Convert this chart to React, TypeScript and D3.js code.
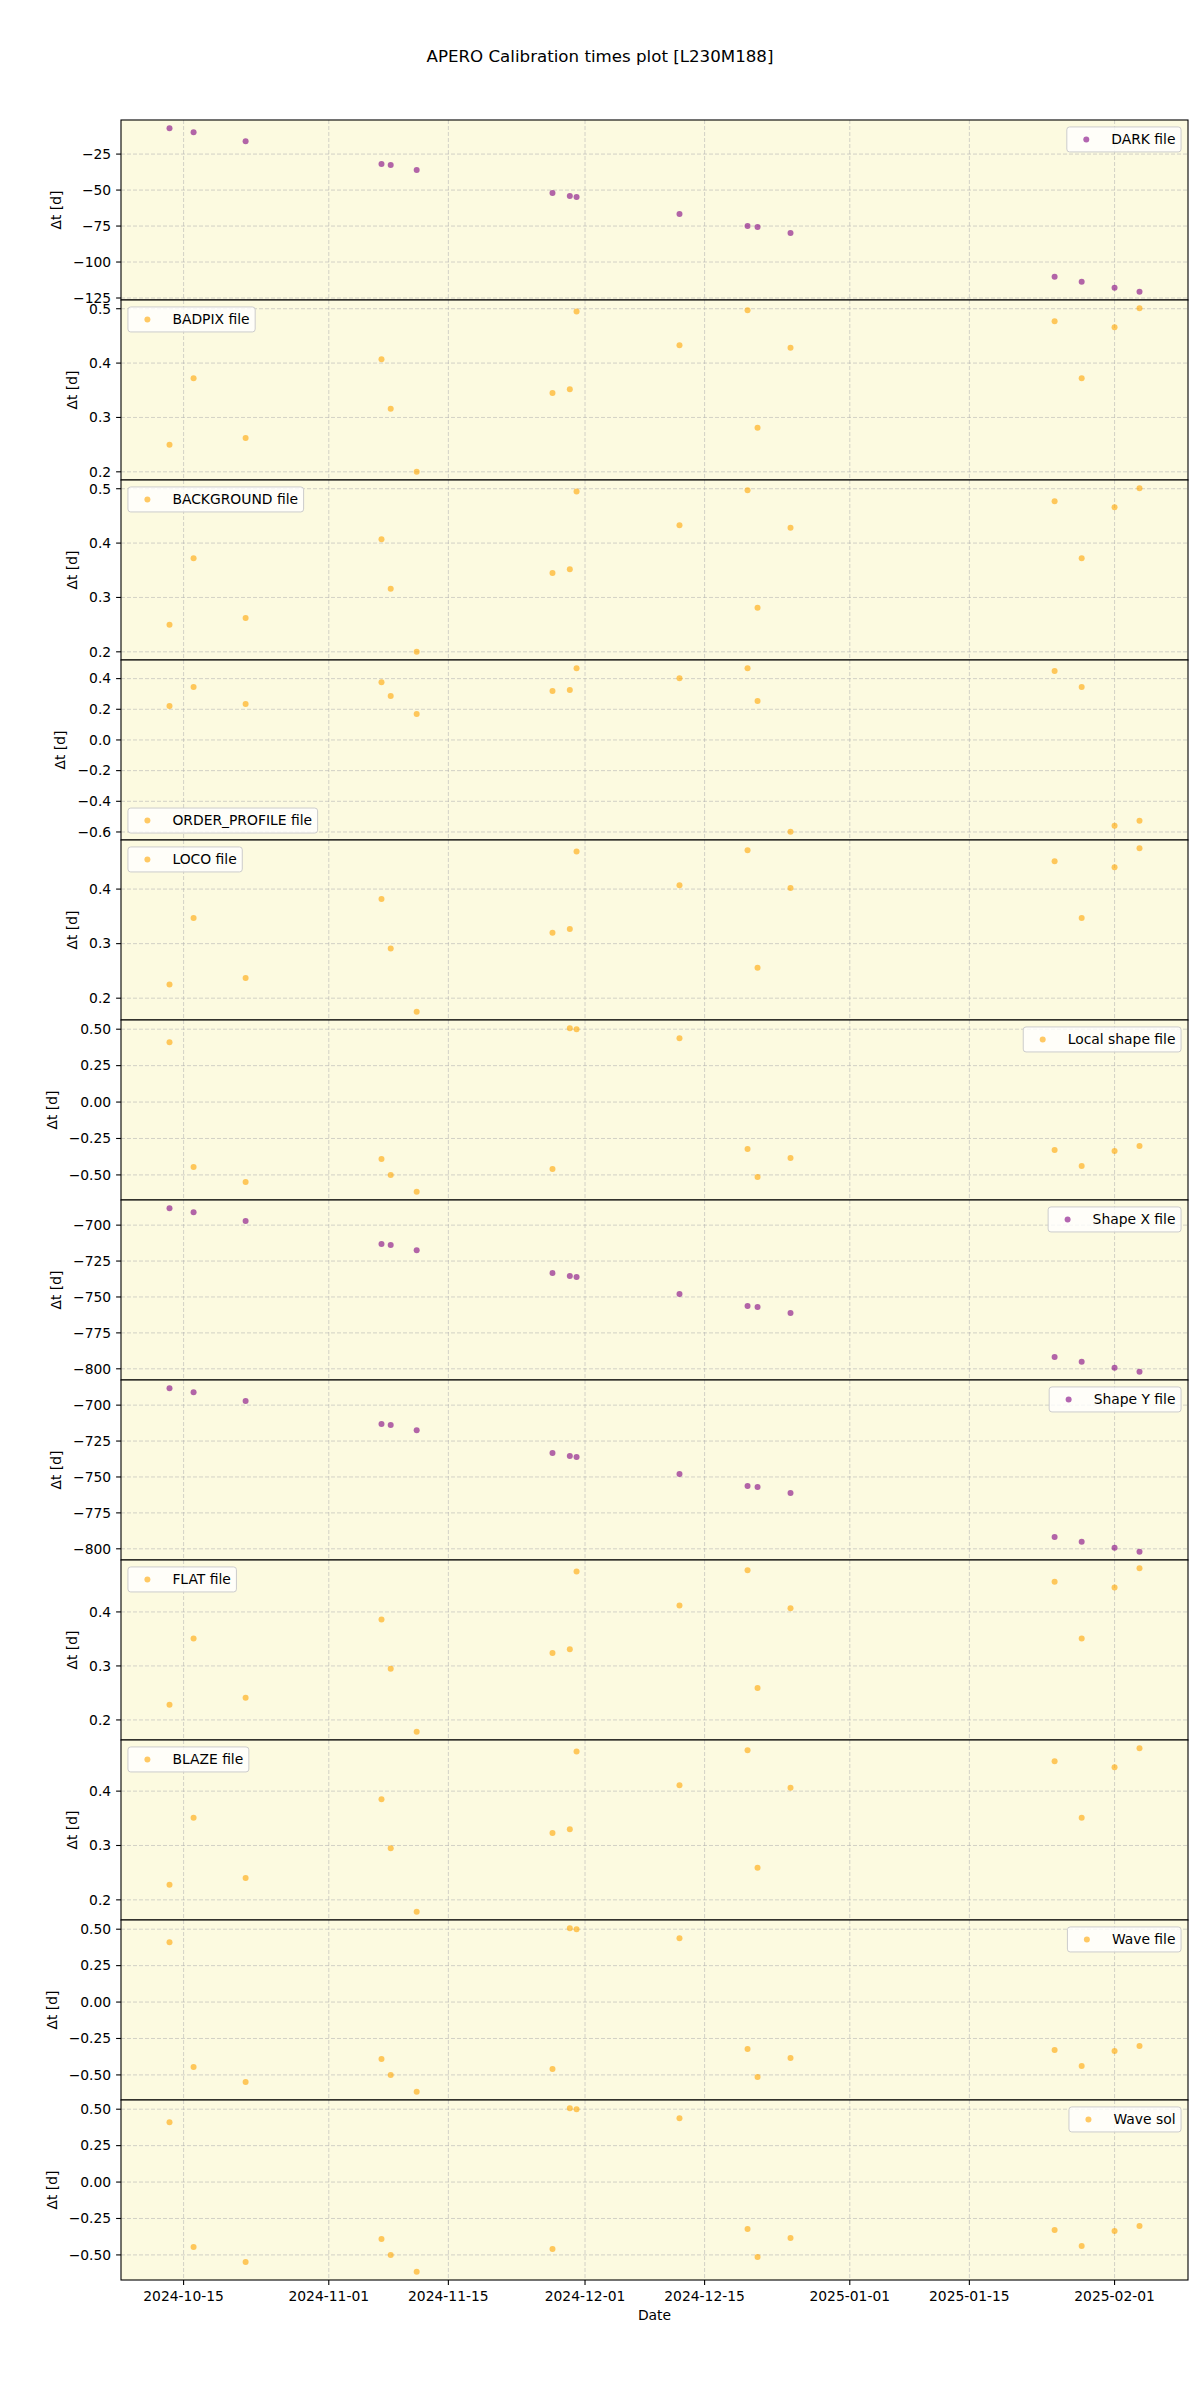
import React, { useEffect, useRef } from "react";
import * as d3 from "d3";

// ---------------- data ----------------
const obsDates = [
  "2024-10-13 08:24", "2024-10-16 04:05", "2024-10-22 06:14", "2024-11-07 04:05",
  "2024-11-08 06:00", "2024-11-11 06:58", "2024-11-27 04:34", "2024-11-29 05:17",
  "2024-11-30 00:14", "2024-12-12 01:26", "2024-12-20 00:43", "2024-12-21 04:48",
  "2024-12-25 01:26", "2025-01-24 23:31", "2025-01-28 03:36", "2025-02-01 00:00",
  "2025-02-03 22:05",
];

const darkDt = [-7.0, -9.8, -16.0, -31.9, -32.6, -36.1, -52.1, -54.2, -54.9, -66.6, -75.0, -75.7, -79.8, -110.2, -113.7, -117.9, -120.7];
const badpixDt = [0.250, 0.372, 0.262, 0.407, 0.316, 0.200, 0.345, 0.352, 0.495, 0.433, 0.497, 0.281, 0.428, 0.477, 0.372, 0.466, 0.501];
const backgroundDt = [0.250, 0.372, 0.262, 0.407, 0.316, 0.200, 0.345, 0.352, 0.495, 0.433, 0.497, 0.281, 0.428, 0.477, 0.372, 0.466, 0.501];
const orderProfileDt = [0.221, 0.345, 0.234, 0.377, 0.286, 0.169, 0.319, 0.325, 0.468, 0.403, 0.468, 0.254, -0.599, 0.449, 0.345, -0.560, -0.527];
const locoDt = [0.225, 0.347, 0.237, 0.382, 0.291, 0.175, 0.320, 0.327, 0.469, 0.407, 0.471, 0.256, 0.402, 0.451, 0.347, 0.440, 0.475];
const localShapeDt = [0.411, -0.445, -0.548, -0.390, -0.500, -0.616, -0.459, 0.507, 0.500, 0.438, -0.322, -0.514, -0.384, -0.329, -0.438, -0.336, -0.301];
const shapeXDt = [-688.2, -691.0, -697.2, -713.2, -713.9, -717.4, -733.3, -735.4, -736.1, -747.9, -756.3, -756.9, -761.1, -791.7, -795.1, -799.3, -802.1];
const shapeYDt = [-688.2, -691.0, -697.2, -713.2, -713.9, -717.4, -733.3, -735.4, -736.1, -747.9, -756.3, -756.9, -761.1, -791.7, -795.1, -799.3, -802.1];
const flatDt = [0.228, 0.351, 0.241, 0.386, 0.295, 0.178, 0.324, 0.331, 0.475, 0.412, 0.477, 0.259, 0.407, 0.456, 0.351, 0.445, 0.481];
const blazeDt = [0.228, 0.351, 0.240, 0.385, 0.295, 0.178, 0.323, 0.330, 0.473, 0.411, 0.475, 0.259, 0.406, 0.455, 0.351, 0.444, 0.479];
const waveFileDt = [0.411, -0.445, -0.548, -0.390, -0.500, -0.616, -0.459, 0.507, 0.500, 0.438, -0.322, -0.514, -0.384, -0.329, -0.438, -0.336, -0.301];
const waveSolDt = [0.411, -0.445, -0.548, -0.390, -0.500, -0.616, -0.459, 0.507, 0.500, 0.438, -0.322, -0.514, -0.384, -0.329, -0.438, -0.336, -0.301];

const xTickLabels = ["2024-10-15", "2024-11-01", "2024-11-15", "2024-12-01", "2024-12-15", "2025-01-01", "2025-01-15", "2025-02-01"];

const seriesLabels = [
  "DARK file", "BADPIX file", "BACKGROUND file", "ORDER_PROFILE file", "LOCO file", "Local shape file",
  "Shape X file", "Shape Y file", "FLAT file", "BLAZE file", "Wave file", "Wave sol",
];
const seriesValues = [
  darkDt, badpixDt, backgroundDt, orderProfileDt, locoDt, localShapeDt,
  shapeXDt, shapeYDt, flatDt, blazeDt, waveFileDt, waveSolDt,
];
const seriesColors = [
  "purple", "orange", "orange", "orange", "orange", "orange",
  "purple", "purple", "orange", "orange", "orange", "orange",
];
const legendLocs = ["ur", "ul", "ul", "ll", "ul", "ur", "ur", "ur", "ul", "ul", "ur", "ur"];

const title = "APERO Calibration times plot [L230M188]";

// ---------------- layout ----------------
const W = 1200;
const H = 2400;
const LEFT = 121;
const RIGHT = 1188;
const TOP = 120;
const PANEL_H = 180;
const FONT = "'DejaVu Sans', sans-serif";
const FS = 13.89;
const BG = "#fcfae0";

function niceStep(range: number, nbins: number) {
  const raw = range / nbins;
  const mag = Math.pow(10, Math.floor(Math.log10(raw)));
  const steps = [1, 2, 2.5, 5, 10];
  for (const s of steps) {
    if (s * mag >= raw - 1e-12) return s * mag;
  }
  return 10 * mag;
}

function decimalsOf(step: number) {
  let d = 0;
  while (d < 8 && Math.abs(step * Math.pow(10, d) - Math.round(step * Math.pow(10, d))) > 1e-9) d++;
  return d;
}

function fmt(v: number, d: number) {
  let s = v.toFixed(d);
  if (Math.abs(v) < 1e-12) s = (0).toFixed(d);
  return s.replace("-", "\u2212");
}

export default function App() {
  const ref = useRef<SVGSVGElement>(null);

  useEffect(() => {
    const svg = d3.select(ref.current);
    svg.selectAll("*").remove();
    svg.append("rect").attr("width", W).attr("height", H).attr("fill", "white");

    const parse = d3.timeParse("%Y-%m-%d %H:%M");
    const parseDay = d3.timeParse("%Y-%m-%d");
    const dates = obsDates.map((s) => parse(s) as Date);
    const [d0, d1] = d3.extent(dates) as [Date, Date];
    const span = +d1 - +d0;
    const x = d3
      .scaleTime()
      .domain([new Date(+d0 - 0.05 * span), new Date(+d1 + 0.05 * span)])
      .range([LEFT, RIGHT]);
    const xTicks = xTickLabels.map((s) => parseDay(s) as Date);

    const defs = svg.append("defs");

    seriesValues.forEach((vals, i) => {
      const top = TOP + i * PANEL_H;
      const bottom = top + PANEL_H;
      const [v0, v1] = d3.extent(vals) as [number, number];
      const pad = (v1 - v0) * 0.05;
      const y = d3.scaleLinear().domain([v0 - pad, v1 + pad]).range([bottom, top]);
      const step = niceStep(v1 - v0 + 2 * pad, 6);
      const dec = decimalsOf(step);
      const yTicks: number[] = [];
      for (let k = Math.ceil((v0 - pad) / step - 1e-9); k * step <= v1 + pad + 1e-9; k++) {
        yTicks.push(k * step);
      }

      const clipId = `clip${i}`;
      defs
        .append("clipPath")
        .attr("id", clipId)
        .append("rect")
        .attr("x", LEFT)
        .attr("y", top)
        .attr("width", RIGHT - LEFT)
        .attr("height", PANEL_H);

      const g = svg.append("g");
      g.append("rect")
        .attr("x", LEFT)
        .attr("y", top)
        .attr("width", RIGHT - LEFT)
        .attr("height", PANEL_H)
        .attr("fill", BG);

      const grid = g.append("g").attr("clip-path", `url(#${clipId})`);
      grid
        .selectAll("line.gx")
        .data(xTicks)
        .join("line")
        .attr("x1", (d) => x(d))
        .attr("x2", (d) => x(d))
        .attr("y1", top)
        .attr("y2", bottom)
        .attr("stroke", "#b0b0b0")
        .attr("stroke-opacity", 0.55)
        .attr("stroke-width", 1)
        .attr("stroke-dasharray", "4,2");
      grid
        .selectAll("line.gy")
        .data(yTicks)
        .join("line")
        .attr("x1", LEFT)
        .attr("x2", RIGHT)
        .attr("y1", (d) => y(d))
        .attr("y2", (d) => y(d))
        .attr("stroke", "#b0b0b0")
        .attr("stroke-opacity", 0.55)
        .attr("stroke-width", 1)
        .attr("stroke-dasharray", "4,2");

      g.append("g")
        .attr("clip-path", `url(#${clipId})`)
        .selectAll("circle")
        .data(vals)
        .join("circle")
        .attr("cx", (_, j) => x(dates[j]))
        .attr("cy", (d) => y(d))
        .attr("r", 3)
        .attr("fill", seriesColors[i])
        .attr("fill-opacity", 0.6);

      // y ticks
      const ytg = g.append("g");
      let minX = LEFT;
      yTicks.forEach((t) => {
        ytg.append("line")
          .attr("x1", LEFT - 4.9)
          .attr("x2", LEFT)
          .attr("y1", y(t))
          .attr("y2", y(t))
          .attr("stroke", "black")
          .attr("stroke-width", 1.1);
        const tx = ytg
          .append("text")
          .attr("x", LEFT - 9.8)
          .attr("y", y(t))
          .attr("dy", "0.35em")
          .attr("text-anchor", "end")
          .attr("font-family", FONT)
          .attr("font-size", FS)
          .attr("fill", "black")
          .text(fmt(t, dec));
        const node = tx.node() as SVGTextElement;
        const w = node.getComputedTextLength();
        minX = Math.min(minX, LEFT - 9.8 - w);
      });

      // y label
      const cy = (top + bottom) / 2;
      const lx = minX - 12;
      g.append("text")
        .attr("x", lx)
        .attr("y", cy)
        .attr("transform", `rotate(-90, ${lx}, ${cy})`)
        .attr("text-anchor", "middle")
        .attr("font-family", FONT)
        .attr("font-size", FS)
        .attr("fill", "black")
        .text("\u0394t [d]");

      // legend
      const lg = g.append("g");
      const boxH = 25;
      const txt = lg
        .append("text")
        .attr("font-family", FONT)
        .attr("font-size", FS)
        .attr("fill", "black")
        .text(seriesLabels[i]);
      const tw = (txt.node() as SVGTextElement).getComputedTextLength();
      const boxW = 5.56 + 27.8 + 11.1 + tw + 5.56;
      const loc = legendLocs[i];
      const bx = loc === "ur" ? RIGHT - 6.94 - boxW : LEFT + 6.94;
      const by = loc === "ll" ? bottom - 6.94 - boxH : top + 6.94;
      lg.insert("rect", "text")
        .attr("x", bx)
        .attr("y", by)
        .attr("width", boxW)
        .attr("height", boxH)
        .attr("rx", 2.8)
        .attr("fill", "white")
        .attr("fill-opacity", 0.8)
        .attr("stroke", "#cccccc")
        .attr("stroke-width", 1);
      lg.insert("circle", "text")
        .attr("cx", bx + 5.56 + 13.9)
        .attr("cy", by + boxH / 2)
        .attr("r", 3)
        .attr("fill", seriesColors[i])
        .attr("fill-opacity", 0.6);
      txt
        .attr("x", bx + 5.56 + 27.8 + 11.1)
        .attr("y", by + boxH / 2)
        .attr("dy", "0.35em");

      // frame
      g.append("rect")
        .attr("x", LEFT)
        .attr("y", top)
        .attr("width", RIGHT - LEFT)
        .attr("height", PANEL_H)
        .attr("fill", "none")
        .attr("stroke", "black")
        .attr("stroke-width", 1.1);
    });

    // bottom x axis
    const bottomY = TOP + seriesValues.length * PANEL_H;
    const xg = svg.append("g");
    xTicks.forEach((d, k) => {
      xg.append("line")
        .attr("x1", x(d))
        .attr("x2", x(d))
        .attr("y1", bottomY)
        .attr("y2", bottomY + 4.9)
        .attr("stroke", "black")
        .attr("stroke-width", 1.1);
      xg.append("text")
        .attr("x", x(d))
        .attr("y", bottomY + 21)
        .attr("text-anchor", "middle")
        .attr("font-family", FONT)
        .attr("font-size", FS)
        .attr("fill", "black")
        .text(xTickLabels[k]);
    });
    svg.append("text")
      .attr("x", (LEFT + RIGHT) / 2)
      .attr("y", bottomY + 40)
      .attr("text-anchor", "middle")
      .attr("font-family", FONT)
      .attr("font-size", FS)
      .attr("fill", "black")
      .text("Date");

    svg.append("text")
      .attr("x", W / 2)
      .attr("y", 62)
      .attr("text-anchor", "middle")
      .attr("font-family", FONT)
      .attr("font-size", 16.67)
      .attr("fill", "black")
      .text(title);
  }, []);

  return (
    <div style={{ position: "absolute", left: 0, top: 0 }}>
      <svg ref={ref} width={W} height={H} />
    </div>
  );
}
